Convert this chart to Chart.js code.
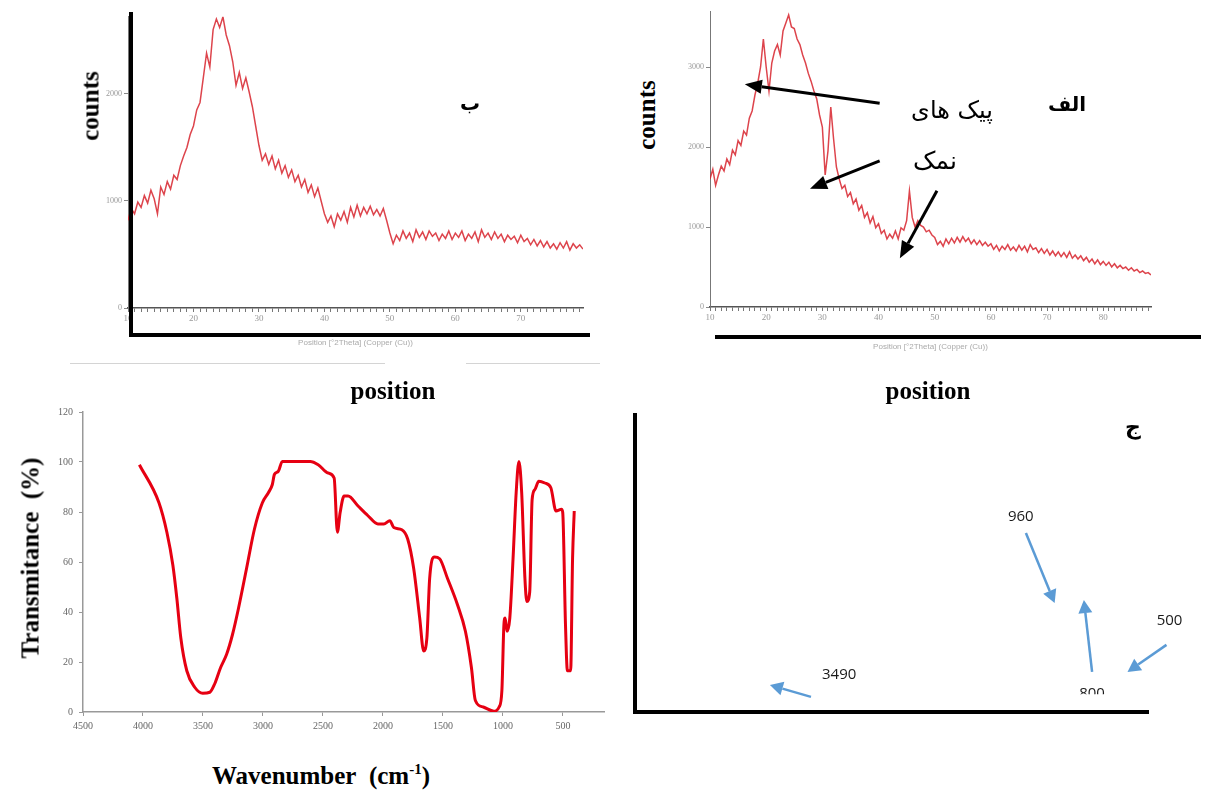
<!DOCTYPE html>
<html>
<head>
<meta charset="utf-8">
<script src="https://cdn.jsdelivr.net/npm/chart.js@4.4.0/dist/chart.umd.min.js"></script>
<style>
body { margin:0; background:#fff; width:1206px; height:794px; position:relative; overflow:hidden; font-family:"Liberation Serif", serif; }
.box { position:absolute; }
.ln { position:absolute; background:#000; }
.gl { position:absolute; background:#d4d4d4; height:1px; }
.t { position:absolute; white-space:nowrap; font-weight:bold; font-size:25px; color:#000; line-height:1; transform:translate(-50%,-50%); }
.rot { transform:translate(-50%,-50%) rotate(-90deg); }
.fa { font-family:"DejaVu Sans", sans-serif; direction:rtl; }
</style>
</head>
<body>

<div class="box" style="left:88px;top:10px;width:500px;height:338px"><canvas id="chartB"></canvas></div>
<div class="box" style="left:660px;top:5px;width:500px;height:347px"><canvas id="chartA"></canvas></div>
<div class="box" style="left:40px;top:400px;width:570px;height:340px"><canvas id="chartFtir"></canvas></div>
<div class="box" style="left:620px;top:400px;width:586px;height:320px"><canvas id="chartJ"></canvas></div>

<!-- heavy frame lines of the two XRD panels -->
<div class="ln" style="left:129px;top:12px;width:4px;height:325px"></div>
<div class="ln" style="left:129px;top:333px;width:461px;height:4px"></div>
<div class="ln" style="left:715px;top:335px;width:486px;height:4px"></div>
<div class="gl" style="left:70px;top:363px;width:315px"></div>
<div class="gl" style="left:466px;top:363px;width:134px"></div>

<div class="t rot" style="left:90px;top:106px">counts</div>
<div class="t rot" style="left:646px;top:115px">counts</div>
<div class="t" style="left:393px;top:390px">position</div>
<div class="t" style="left:928px;top:390px">position</div>
<div class="t rot" style="left:30px;top:558px">Transmitance&nbsp; (%)</div>
<div class="t" style="left:321px;top:775px">Wavenumber&nbsp; (cm<sup style="font-size:15px">-1</sup>)</div>

<div class="t fa" style="left:470px;top:103px;font-size:20px">ب</div>
<div class="t fa" style="left:1067px;top:104px;font-size:20px">الف</div>
<div class="t fa" style="left:952px;top:110px;font-size:24px;font-weight:normal">پیک های</div>
<div class="t fa" style="left:935px;top:160px;font-size:25px;font-weight:normal">نمک</div>
<div class="t fa" style="left:1133px;top:427px;font-size:22px">ج</div>

<script>
// XRD pattern ب  (2theta from 10 deg, 0.5 deg apart)
const xrdStep = 0.5;
const xrdStart = 10;
const countsB = [
  820, 930, 880, 990, 940, 1050, 980, 1100, 1020, 880,
  1130, 1060, 1180, 1110, 1240, 1200, 1330, 1420, 1500, 1620,
  1700, 1850, 1920, 2150, 2380, 2250, 2600, 2700, 2620, 2720,
  2550, 2450, 2300, 2080, 2200, 2050, 2150, 2020, 1880, 1700,
  1520, 1380, 1440, 1340, 1420, 1300, 1380, 1260, 1330, 1220,
  1290, 1180, 1240, 1130, 1200, 1080, 1150, 1040, 1120, 1000,
  880, 800, 860, 760, 880, 820, 900, 800, 940, 850,
  960, 860, 940, 880, 950, 870, 920, 860, 930, 820,
  700, 600, 680, 630, 720, 650, 700, 620, 730, 660,
  710, 640, 720, 670, 700, 630, 690, 650, 720, 640,
  700, 660, 720, 630, 690, 650, 710, 620, 730, 660,
  700, 640, 710, 650, 690, 620, 680, 640, 670, 610,
  680, 620, 650, 590, 640, 580, 630, 570, 620, 560,
  600, 550, 610, 560, 620, 540, 600, 560, 590, 550
];
// XRD pattern الف
const countsA = [
  1600, 1720, 1520, 1650, 1760, 1700, 1850, 1780, 1960, 1900,
  2080, 2020, 2200, 2150, 2360, 2450, 2650, 2800, 3000, 3350,
  3000, 2700, 3050, 3200, 3280, 3150, 3450, 3550, 3650, 3500,
  3480, 3350, 3280, 3150, 3050, 2920, 2820, 2700, 2600, 2400,
  2250, 1650, 1950, 2500, 2100, 1750, 1600, 1480, 1520, 1380,
  1430, 1290, 1350, 1210, 1270, 1120, 1180, 1050, 1130, 990,
  1040, 920, 960, 850, 910, 860, 950, 850, 990, 960,
  1080, 1450, 1120, 1000, 1080, 1020, 1000, 940, 960, 900,
  870, 780, 820, 760, 850, 790, 860, 800, 870, 810,
  880, 820, 860, 790, 840, 780, 830, 770, 810, 760,
  790, 720, 770, 700, 760, 720, 780, 710, 750, 700,
  770, 710, 760, 690, 780, 720, 740, 680, 730, 670,
  720, 650, 700, 640, 690, 630, 680, 620, 690, 610,
  650, 600, 640, 580, 620, 560, 600, 540, 590, 530,
  570, 520, 560, 500, 540, 490, 520, 480, 500, 460,
  490, 450, 470, 430, 450, 420, 430, 400
];
const yTicksB = [0, 1000, 2000];
const yTicksA = [0, 1000, 2000, 3000];

// FTIR spectrum
const ftirWavenumber = [
  4030, 3867, 3801, 3751, 3718, 3685, 3635, 3569, 3502, 3443,
  3403, 3353, 3303, 3254, 3204, 3137, 3071, 3005, 2955, 2922,
  2905, 2872, 2839, 2606, 2540, 2457, 2407, 2380, 2357, 2324,
  2291, 2208, 2125, 2042, 1993, 1943, 1910, 1843, 1794, 1744,
  1694, 1661, 1634, 1611, 1571, 1528, 1462, 1379, 1313, 1263,
  1230, 1164, 1075, 1032, 1009, 992, 982, 966, 943, 916,
  890, 867, 844, 817, 801, 777, 757, 734, 701, 651,
  601, 558, 512, 502, 479, 463, 436, 420, 406
];
const ftirTransmittance = [
  98.9, 83.7, 71.9, 58.7, 45.5, 29.7, 16.5, 9.9, 7.5, 7.9,
  11.2, 17.8, 23.1, 31, 41.5, 57.4, 73.2, 83.7, 87.7, 91,
  95, 96.3, 100.2, 100.2, 98.9, 95.6, 93.6, 71.9, 79.8, 86.4,
  86.4, 82.4, 78.5, 75.2, 75.2, 76.5, 73.8, 72.9, 69.2, 57.4,
  37.6, 24.4, 29.7, 53.4, 62, 61.3, 53.4, 42.9, 32.3, 17.8,
  4.6, 2, 0.3, 2, 8.6, 35, 37.6, 32.3, 37.6, 61.3,
  87.7, 100.2, 87.7, 53.4, 44.2, 48.1, 85, 89, 92.3, 91.6,
  89.7, 80.4, 81.1, 79.8, 35, 16.5, 16.5, 61.3, 80.4
];
const ftirXTicks = [4500, 4000, 3500, 3000, 2500, 2000, 1500, 1000, 500];
const ftirYTicks = [0, 20, 40, 60, 80, 100, 120];

// salt peak arrows on pattern الف  [2theta, counts]
const saltArrowFrom = [[40.2, 2547], [40.2, 1826], [50.4, 1453]];
const saltArrowTo = [[16.2, 2783], [27.8, 1478], [43.8, 609]];

// band arrows of panel ج  (panel units 0..100)
const bandNames = ['960', '800', '500', '3490'];
const bandLabelPos = [[75.2, 65.7], [89.1, 6.2], [104.2, 30.6], [39.8, 12.5]];
const bandArrowFrom = [[76.2, 60.3], [89.1, 13.5], [103.6, 22.6], [34.3, 5.1]];
const bandArrowTo = [[81.8, 36.7], [87.5, 37.7], [96.0, 13.5], [26.3, 9.1]];

Chart.defaults.font.family = '"Liberation Serif", serif';
Chart.defaults.animation = false;

function pares(xs, ys) {
  return ys.map((v, i) => ({ x: xs[i], y: v }));
}
function xrdPoints(counts) {
  return counts.map((v, i) => ({ x: xrdStart + i * xrdStep, y: v }));
}
function grados(desde, hasta) {
  const t = [];
  for (let v = desde; v <= hasta; v++) t.push({ value: v });
  return t;
}

function flecha(ctx, x1, y1, x2, y2, color, ancho, largo, abre) {
  const ang = Math.atan2(y2 - y1, x2 - x1);
  const bx = x2 - Math.cos(ang) * largo, by = y2 - Math.sin(ang) * largo;
  ctx.save();
  ctx.strokeStyle = color;
  ctx.fillStyle = color;
  ctx.lineWidth = ancho;
  ctx.beginPath();
  ctx.moveTo(x1, y1);
  ctx.lineTo(bx, by);
  ctx.stroke();
  ctx.beginPath();
  ctx.moveTo(x2, y2);
  ctx.lineTo(bx + Math.sin(ang) * abre, by - Math.cos(ang) * abre);
  ctx.lineTo(bx - Math.sin(ang) * abre, by + Math.cos(ang) * abre);
  ctx.closePath();
  ctx.fill();
  ctx.restore();
}

const pluginFlechas = {
  id: 'flechas',
  afterDatasetsDraw(chart, args, op) {
    if (!op || !op.from) return;
    const ctx = chart.ctx, sx = chart.scales.x, sy = chart.scales.y;
    op.from.forEach((f, i) => {
      const t = op.to[i];
      flecha(ctx, sx.getPixelForValue(f[0]), sy.getPixelForValue(f[1]),
        sx.getPixelForValue(t[0]), sy.getPixelForValue(t[1]),
        op.color, op.width, op.head, op.spread);
    });
    (op.labels || []).forEach((txt, i) => {
      const p = op.labelPos[i];
      ctx.save();
      if (op.clipBelow !== undefined) {
        ctx.beginPath();
        ctx.rect(0, 0, chart.width, sy.getPixelForValue(op.clipBelow));
        ctx.clip();
      }
      ctx.font = op.font;
      ctx.fillStyle = '#1a1a1a';
      ctx.textAlign = 'center';
      ctx.textBaseline = 'middle';
      ctx.fillText(txt, sx.getPixelForValue(p[0]), sy.getPixelForValue(p[1]));
      ctx.restore();
    });
  }
};

function xrdChart(id, counts, xMax, yMax, yTicks, yWidth, padRight, xHeight, flechas) {
  return new Chart(document.getElementById(id), {
    type: 'line',
    data: {
      datasets: [{
        data: xrdPoints(counts),
        borderColor: 'rgba(215, 35, 45, 0.85)',
        borderWidth: 1.5,
        pointRadius: 0,
        tension: 0
      }]
    },
    options: {
      responsive: true,
      maintainAspectRatio: false,
      layout: { padding: { top: 5, right: padRight, left: 0, bottom: 0 } },
      plugins: { legend: { display: false }, tooltip: { enabled: false }, flechas: flechas },
      scales: {
        x: {
          type: 'linear', min: 10, max: xMax,
          afterBuildTicks: s => { s.ticks = grados(10, Math.floor(xMax)); },
          afterFit: s => { s.height = xHeight; },
          ticks: {
            autoSkip: false, maxRotation: 0, color: '#999', font: { size: 9 }, padding: 1,
            callback: v => (v % 10 === 0 ? String(v) : '')
          },
          grid: { drawOnChartArea: false, tickLength: 4, color: '#777' },
          border: { color: '#555', width: 1.5 },
          title: {
            display: true, text: 'Position [°2Theta] (Copper (Cu))',
            color: '#aaa', font: { size: 8, family: 'Liberation Sans' }, padding: { top: 0, bottom: 0 }
          }
        },
        y: {
          min: 0, max: yMax,
          afterBuildTicks: s => { s.ticks = yTicks.map(v => ({ value: v })); },
          afterFit: s => { s.width = yWidth; },
          ticks: { color: '#999', font: { size: 8 }, padding: 2, callback: v => String(v) },
          grid: { drawOnChartArea: false, tickLength: 4, color: '#888' },
          border: { color: '#777', width: 1 }
        }
      }
    },
    plugins: [pluginFlechas]
  });
}

xrdChart('chartB', countsB, 79.5, 2720, yTicksB, 40, 5, 40, {});
xrdChart('chartA', countsA, 88.5, 3690, yTicksA, 50, 9, 45, {
  from: saltArrowFrom, to: saltArrowTo, color: '#000', width: 3, head: 17, spread: 7
});

new Chart(document.getElementById('chartFtir'), {
  type: 'line',
  data: {
    datasets: [{
      data: pares(ftirWavenumber, ftirTransmittance),
      borderColor: '#e60012',
      borderWidth: 3,
      pointRadius: 0,
      cubicInterpolationMode: 'monotone'
    }]
  },
  options: {
    responsive: true,
    maintainAspectRatio: false,
    layout: { padding: { top: 8, right: 6, left: 0, bottom: 0 } },
    plugins: { legend: { display: false }, tooltip: { enabled: false } },
    scales: {
      x: {
        type: 'linear', reverse: true, min: 158, max: 4500,
        afterBuildTicks: s => { s.ticks = ftirXTicks.map(v => ({ value: v })); },
        afterFit: s => { s.height = 28; },
        ticks: { autoSkip: false, maxRotation: 0, color: '#666', font: { size: 10 }, padding: 4, callback: v => String(v) },
        grid: { drawOnChartArea: false, tickLength: 4, color: '#999' },
        border: { color: '#999', width: 1.5 }
      },
      y: {
        min: 0, max: 120,
        afterBuildTicks: s => { s.ticks = ftirYTicks.map(v => ({ value: v })); },
        afterFit: s => { s.width = 43; },
        ticks: { color: '#666', font: { size: 10 }, padding: 6, callback: v => String(v) },
        grid: { drawOnChartArea: false, tickLength: 4, color: '#999' },
        border: { color: '#999', width: 1.5 }
      }
    }
  }
});

new Chart(document.getElementById('chartJ'), {
  type: 'line',
  data: { datasets: [] },
  options: {
    responsive: true,
    maintainAspectRatio: false,
    layout: { padding: { top: 15, right: 58, left: 0, bottom: 0 } },
    plugins: {
      legend: { display: false }, tooltip: { enabled: false },
      flechas: {
        from: bandArrowFrom, to: bandArrowTo, color: '#5b9bd5', width: 2.5, head: 13, spread: 7,
        labels: bandNames, labelPos: bandLabelPos, font: '15px "Open Sans", sans-serif',
        clipBelow: 6.0
      }
    },
    scales: {
      x: {
        type: 'linear', min: 0, max: 100,
        afterFit: s => { s.height = 8; },
        ticks: { display: false },
        grid: { display: false },
        border: { color: '#000', width: 4 }
      },
      y: {
        min: 0, max: 100,
        afterFit: s => { s.width = 15; },
        ticks: { display: false },
        grid: { display: false },
        border: { color: '#000', width: 4 }
      }
    }
  },
  plugins: [pluginFlechas]
});
</script>
</body>
</html>
